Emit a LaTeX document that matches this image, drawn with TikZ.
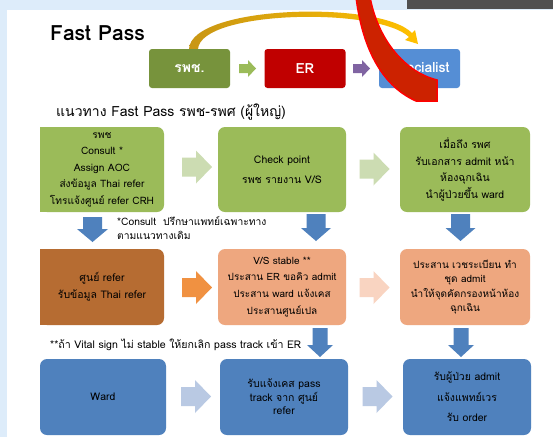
\documentclass[tikz,border=0pt]{standalone}
\usepackage{fontspec}
\setmainfont[Script=Thai]{Loma}
\definecolor{bgblue}{RGB}{221,236,250}
\definecolor{bargray}{RGB}{80,80,80}
\definecolor{topgreen}{RGB}{119,147,60}
\definecolor{erred}{RGB}{192,0,0}
\definecolor{specblue}{RGB}{85,142,213}
\definecolor{smallgreen}{RGB}{155,187,89}
\definecolor{purp}{RGB}{128,100,162}
\definecolor{rowgreen}{RGB}{155,187,89}
\definecolor{lgreen}{RGB}{204,220,178}
\definecolor{mblue}{RGB}{79,129,189}
\definecolor{brown}{RGB}{182,108,50}
\definecolor{orarrow}{RGB}{240,145,65}
\definecolor{salmon}{RGB}{238,167,127}
\definecolor{peach}{RGB}{249,212,193}
\definecolor{lblue}{RGB}{185,201,227}
\definecolor{ribbon}{RGB}{204,34,0}
\definecolor{yeldark}{RGB}{200,150,20}
\definecolor{yellight}{RGB}{255,192,0}
% right-pointing block arrow: cx, cy, length, head width, shaft width, head length, colour
\newcommand\myrarrow[7]{%
  \fill[#7] ({#1-#3/2},{#2-#5/2}) -- ({#1+#3/2-#6},{#2-#5/2}) -- ({#1+#3/2-#6},{#2-#4/2})
    -- ({#1+#3/2},{#2}) -- ({#1+#3/2-#6},{#2+#4/2}) -- ({#1+#3/2-#6},{#2+#5/2})
    -- ({#1-#3/2},{#2+#5/2}) -- cycle;}
% down-pointing block arrow
\newcommand\mydarrow[7]{%
  \fill[#7] ({#1-#5/2},{#2-#3/2}) -- ({#1-#5/2},{#2+#3/2-#6}) -- ({#1-#4/2},{#2+#3/2-#6})
    -- ({#1},{#2+#3/2}) -- ({#1+#4/2},{#2+#3/2-#6}) -- ({#1+#5/2},{#2+#3/2-#6})
    -- ({#1+#5/2},{#2-#3/2}) -- cycle;}
\begin{document}
\begin{tikzpicture}[x=1pt,y=-1pt,
  box/.style={rounded corners=7pt, inner sep=0pt, align=center, text=black},
  topbox/.style={rounded corners=3pt, inner sep=0pt, minimum width=81pt, minimum height=39pt, text=white, font=\fontsize{14}{16}\selectfont\bfseries},
  note/.style={align=left, anchor=west, inner sep=0pt, text=black}
]
\useasboundingbox (0,0) rectangle (553,437);
\fill[bgblue] (0,0) rectangle (553,437);
\fill[white] (7,10) rectangle (553,437);
\fill[bargray] (407,0) rectangle (553,9);

% title
\node[anchor=base west, inner sep=0pt, font=\fontsize{21}{24}\selectfont\bfseries] (title) at (50,40) {Fast Pass};

% yellow curved arrow
\shade[left color=yeldark, right color=yellight]
  (189,49) .. controls (191,5) and (380,0) .. (412,33) -- (415,30) -- (418,44) -- (405,40) -- (409,37)
  .. controls (378,7) and (201,10) .. (198,49) -- cycle;

% top flow
\node[topbox, fill=topgreen] (rp) at (189.5,68.5) {รพช.};
\node[topbox, fill=erred] (er) at (305,68.5) {ER};
\node[topbox, fill=specblue] (sp) at (419.5,68.5) {Specialist};
\myrarrow{247.5}{68.5}{17}{17}{9}{8}{smallgreen}
\myrarrow{361.5}{68.5}{17}{17}{9}{8}{purp}

\node[anchor=base west, inner sep=0pt, font=\fontsize{14}{16}\selectfont] (sub) at (56,116) {แนวทาง Fast Pass รพช-รพศ (ผู้ใหญ่)};

% row 1
\fill[rowgreen] (40,127) rectangle (52,212);
\node[box, fill=rowgreen, minimum width=124pt, minimum height=85pt, font=\fontsize{10.2}{16.5}\selectfont] (A) at (102,169.5)
  {รพช\\Consult *\\Assign AOC\\ส่งข้อมูล Thai refer\\โทรแจ้งศูนย์ refer CRH};
\node[box, fill=rowgreen, minimum width=128pt, minimum height=85pt, font=\fontsize{10.5}{20}\selectfont] (B) at (282,169.5)
  {Check point\\รพช รายงาน V/S};
\node[box, fill=rowgreen, minimum width=130pt, minimum height=85pt, font=\fontsize{10.5}{16.5}\selectfont] (C) at (465,169.5)
  {เมื่อถึง รพศ\\รับเอกสาร admit หน้า\\ห้องฉุกเฉิน\\นำผู้ป่วยขึ้น ward};
\myrarrow{197}{167}{30}{33}{19}{16}{lgreen}
\myrarrow{374.5}{169}{30}{33}{19}{16}{lgreen}

% down arrows row1 -> row2
\mydarrow{92.5}{229.5}{25}{31}{19}{13}{mblue}
\mydarrow{316}{227.5}{27}{30}{19}{13}{mblue}
\mydarrow{460.5}{227.5}{27}{30}{19}{13}{mblue}

\node[note, font=\fontsize{10.3}{14}\selectfont] (n1) at (117,228) {*Consult\ \ ปรึกษาแพทย์เฉพาะทาง\\ตามแนวทางเดิม};

% row 2
\fill[brown] (40,249) rectangle (52,325);
\node[box, fill=brown, minimum width=124pt, minimum height=76pt, font=\fontsize{10.5}{17}\selectfont] (D) at (102,287)
  {ศูนย์ refer\\รับข้อมูล Thai refer};
\node[box, fill=salmon, minimum width=128pt, minimum height=76pt, font=\fontsize{10}{16.7}\selectfont] (E) at (282,287)
  {V/S stable **\\ประสาน ER ขอคิว admit\\ประสาน ward แจ้งเคส\\ประสานศูนย์เปล};
\node[box, fill=salmon, minimum width=130pt, minimum height=76pt, font=\fontsize{10}{14.5}\selectfont] (F) at (465,287)
  {ประสาน เวชระเบียน ทำ\\ชุด admit\\นำให้จุดคัดกรองหน้าห้อง\\ฉุกเฉิน};
\myrarrow{197}{287.5}{30}{33}{19}{16}{orarrow}
\myrarrow{374.5}{287.5}{30}{33}{19}{16}{peach}

\node[note, font=\fontsize{10.6}{12}\selectfont] (n2) at (50,345) {**ถ้า Vital sign ไม่ stable ให้ยกเลิก pass track เข้า ER};

% down arrows row2 -> row3
\mydarrow{320}{342.5}{29}{26}{15}{12}{mblue}
\mydarrow{461}{342.5}{29}{26}{15}{12}{mblue}

% row 3
\node[box, fill=mblue, minimum width=126pt, minimum height=76pt, font=\fontsize{10.5}{14}\selectfont] (G) at (103,397) {Ward};
\node[box, fill=mblue, minimum width=128pt, minimum height=76pt, font=\fontsize{10.5}{13.5}\selectfont] (H) at (284,397)
  {รับแจ้งเคส pass\\track จาก ศูนย์\\refer};
\node[box, fill=mblue, minimum width=128pt, minimum height=76pt, font=\fontsize{10.5}{20.5}\selectfont] (I) at (467,397)
  {รับผู้ป่วย admit\\แจ้งแพทย์เวร\\รับ order};
\myrarrow{196}{396.5}{30}{33}{19}{16}{lblue}
\myrarrow{377.5}{396.5}{30}{33}{19}{16}{lblue}

% red ribbon
\filldraw[draw=red, fill=ribbon, line width=1.5pt]
  (356,-3) .. controls (362,45) and (380,85) .. (416,101) -- (437,101) -- (437,80)
  .. controls (405,72) and (378,40) .. (370,-3) -- cycle;
\end{tikzpicture}
\end{document}
